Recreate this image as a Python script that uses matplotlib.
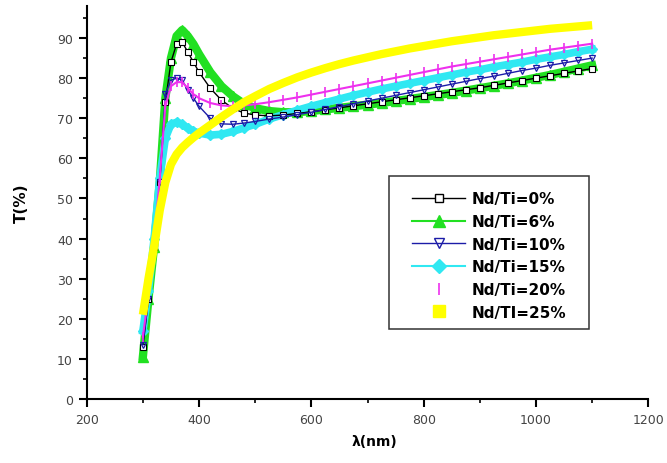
import matplotlib
matplotlib.use("Agg")
import matplotlib.pyplot as plt
from matplotlib.lines import Line2D
from matplotlib.patches import Rectangle
from matplotlib.ticker import MultipleLocator

# wavelength grid (nm)
lam = [300, 310, 320, 330, 340, 350, 360, 370, 380, 390, 400, 420, 440, 460, 480,
       500, 525, 550, 575, 600, 625, 650, 675, 700, 725, 750, 775, 800, 825, 850,
       875, 900, 925, 950, 975, 1000, 1025, 1050, 1075, 1100]

# transmittance T(%)
t_0 = [13, 25, 38, 54, 74, 84, 88.5, 89, 86.5, 84, 81.5, 77.5, 74.5, 72.5, 71.3,
       70.8, 70.6, 70.8, 71.2, 71.6, 72.1, 72.6, 73.1, 73.6, 74.1, 74.6, 75.1, 75.6, 76.1, 76.6,
       77.1, 77.6, 78.2, 78.8, 79.4, 80.0, 80.6, 81.2, 81.8, 82.4]
t_6 = [10.5, 25, 38, 54, 75, 85, 90.5, 92, 90.5, 88.5, 86, 81.5, 78, 75.5, 73.6,
       72.5, 71.8, 71.5, 71.5, 71.8, 72.2, 72.6, 73, 73.4, 73.8, 74.3, 74.8, 75.3, 75.8, 76.3,
       76.9, 77.5, 78.1, 78.7, 79.4, 80.1, 80.8, 81.6, 82.4, 83.2]
t_10 = [13.5, 25, 38, 54, 76, 79.5, 80, 79.5, 77, 75, 73, 70, 68.6, 68.5, 68.8,
        69.2, 69.8, 70.3, 70.9, 71.5, 72.2, 72.9, 73.6, 74.3, 75, 75.7, 76.4, 77.1, 77.8, 78.5,
        79.2, 79.9, 80.5, 81.2, 81.9, 82.5, 83.2, 83.8, 84.4, 85]
t_15 = [17, 27, 40, 55, 65, 68.5, 69, 68.5, 67.5, 66.8, 66.3, 65.8, 66, 66.7, 67.6,
        68.5, 69.8, 70.9, 72, 73, 73.9, 74.8, 75.7, 76.5, 77.3, 78, 78.7, 79.4, 80.1, 80.8,
        81.5, 82.1, 82.8, 83.4, 84, 84.7, 85.3, 85.9, 86.6, 87.2]
t_20 = [15.5, 26, 39, 55, 73, 78, 79, 79, 77.5, 76, 75, 73.8, 73.2, 73, 73.2,
        73.5, 74, 74.6, 75.2, 75.9, 76.6, 77.3, 78, 78.7, 79.4, 80.1, 80.8, 81.5, 82.2, 82.9,
        83.5, 84.1, 84.7, 85.3, 85.9, 86.5, 87.1, 87.6, 88.1, 88.6]
t_25 = [21, 30, 38, 47, 54, 58.5, 61, 62.7, 64, 65.2, 66.3, 68.3, 70.3, 72.2, 74,
        75.5, 77.3, 78.8, 80.2, 81.4, 82.5, 83.5, 84.4, 85.2, 86, 86.7, 87.4, 88, 88.6, 89.2,
        89.7, 90.2, 90.7, 91.1, 91.5, 91.9, 92.3, 92.6, 92.9, 93.2]

labels = ["Nd/Ti=0%", "Nd/Ti=6%", "Nd/Ti=10%", "Nd/Ti=15%", "Nd/Ti=20%", "Nd/TI=25%"]

c_black = "black"
c_green = "#22e022"
c_blue = "#1c1ca8"
c_cyan = "#30e8f2"
c_mag = "#ee30ee"
c_yel = "#ffff00"

fig = plt.figure(figsize=(6.67, 4.64), dpi=100)
ax = fig.add_axes([0.130, 0.138, 0.842, 0.847])

ax.plot(lam, t_6, color=c_green, lw=6, marker="^", ms=7, zorder=2)
ax.plot(lam, t_15, color=c_cyan, lw=5.5, marker="D", ms=5, zorder=2)
ax.plot(lam, t_0, color=c_black, lw=1, marker="s", ms=4, mfc="white", mew=0.8, zorder=3)
ax.plot(lam, t_10, color=c_blue, lw=1, marker="v", ms=5, mfc="none", mew=0.9, zorder=3)
ax.plot(lam, t_20, color=c_mag, lw=1.5, marker="|", ms=7, mew=1.2, zorder=4)
ax.plot(lam, t_25, color=c_yel, lw=6, solid_capstyle="butt", zorder=5)

# legend frame drawn by hand so the padding can match
ax.add_patch(Rectangle((0.538, 0.178), 0.357, 0.389, transform=ax.transAxes,
                       fill=True, facecolor="white", edgecolor="#333333",
                       lw=1.1, zorder=6))

handles = [
    Line2D([], [], color=c_black, lw=1, marker="s", ms=6, mfc="white", mew=1),
    Line2D([], [], color=c_green, lw=1.5, marker="^", ms=8),
    Line2D([], [], color=c_blue, lw=1, marker="v", ms=7, mfc="none", mew=1),
    Line2D([], [], color=c_cyan, lw=1.5, marker="D", ms=7),
    Line2D([], [], color=c_mag, ls="none", marker="|", ms=8, mew=1.2),
    Line2D([], [], color=c_yel, ls="none", marker="s", ms=8),
]
leg = ax.legend(handles, labels, loc="upper left", bbox_to_anchor=(0.579, 0.528),
                prop={"weight": "bold", "size": 11}, frameon=False,
                handlelength=3.5, labelspacing=0.5, borderpad=0,
                handletextpad=0.4, borderaxespad=0)
leg.set_zorder(7)

ax.set_xlim(200, 1200)
ax.set_ylim(0, 98)
ax.xaxis.set_major_locator(MultipleLocator(200))
ax.xaxis.set_minor_locator(MultipleLocator(100))
ax.yaxis.set_major_locator(MultipleLocator(10))
ax.yaxis.set_minor_locator(MultipleLocator(5))

for s in ["top", "right"]:
    ax.spines[s].set_visible(False)
for s in ["left", "bottom"]:
    ax.spines[s].set_linewidth(1.5)

ax.tick_params(which="major", direction="out", length=6, width=1.5,
               labelsize=9, labelcolor="#444444", pad=4)
ax.tick_params(which="minor", direction="out", length=3, width=1.2)

ax.set_xlabel("λ(nm)", fontsize=10, fontweight="bold", labelpad=6)
ax.xaxis.set_label_coords(0.513, -0.09)
ax.set_ylabel("T(%)", fontsize=11, fontweight="bold", labelpad=20)

fig.savefig("out.png", dpi=100)
